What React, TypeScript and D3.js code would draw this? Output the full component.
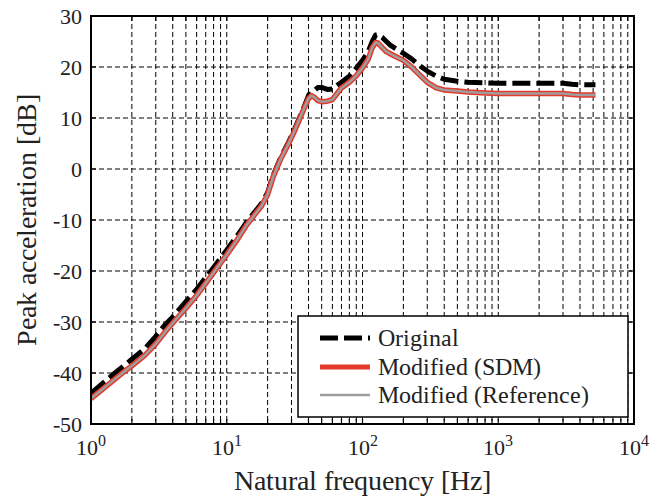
import React from "react";
import * as d3 from "d3";

const freqs = [1, 1.2, 1.5, 1.8, 2, 2.5, 3, 3.5, 4, 5, 6, 7, 8, 10, 12, 14, 16, 18, 20, 22, 25, 28, 31, 34, 37, 40, 42, 44, 47, 50, 55, 60, 65, 70, 80, 90, 100, 110, 118, 125, 130, 140, 150, 160, 180, 200, 230, 260, 300, 350, 400, 500, 600, 800, 1000, 1500, 2000, 3000, 3500, 4000, 5200];

const originalValues = [-44, -42.2, -40.0, -38.3, -37.3, -35.2, -32.8, -30.6, -29.0, -26.0, -23.6, -21.3, -19.3, -15.9, -13.0, -10.4, -8.5, -6.8, -4.6, -1.2, 2.3, 4.8, 7.3, 9.8, 12.1, 14.4, 15.2, 15.3, 16.0, 16.0, 15.6, 15.7, 16.4, 17.0, 18.2, 19.8, 21.3, 23.0, 25.0, 26.3, 26.4, 25.8, 25.0, 24.3, 23.4, 22.7, 21.6, 20.4, 19.2, 18.2, 17.6, 17.2, 17.0, 16.9, 16.8, 16.8, 16.8, 16.8, 16.6, 16.5, 16.5];

const sdmValues = [-45, -43.3, -41.2, -39.5, -38.6, -36.5, -34.3, -32.0, -30.2, -27.3, -24.8, -22.4, -20.3, -16.8, -13.8, -11.0, -9.0, -7.3, -5.0, -1.5, 2.0, 4.5, 7.0, 9.5, 11.8, 13.8, 14.4, 14.1, 13.4, 13.2, 13.3, 13.6, 14.8, 15.9, 17.0, 18.3, 19.8, 21.5, 23.8, 24.8, 24.7, 23.8, 23.0, 22.6, 21.9, 21.3, 20.0, 18.6, 17.0, 15.9, 15.5, 15.3, 15.1, 14.9, 14.8, 14.8, 14.8, 14.8, 14.6, 14.5, 14.5];

const referenceValues = [-45, -43.3, -41.2, -39.5, -38.6, -36.5, -34.3, -32.0, -30.2, -27.3, -24.8, -22.4, -20.3, -16.8, -13.8, -11.0, -9.0, -7.3, -5.0, -1.5, 2.0, 4.5, 7.0, 9.5, 11.8, 13.8, 14.4, 14.1, 13.4, 13.2, 13.3, 13.6, 14.8, 15.9, 17.0, 18.3, 19.8, 21.5, 23.8, 24.8, 24.7, 23.8, 23.0, 22.6, 21.9, 21.3, 20.0, 18.6, 17.0, 15.9, 15.5, 15.3, 15.1, 14.9, 14.8, 14.8, 14.8, 14.8, 14.6, 14.5, 14.5];

const yTicks = [-50, -40, -30, -20, -10, 0, 10, 20, 30];
const xMajorExponents = [0, 1, 2, 3, 4];
const legendLabels = ["Original", "Modified (SDM)", "Modified (Reference)"];

const W = 666;
const H = 497;
const L = 91, R = 634, T = 16, B = 424;
const FONT = "ChartSerif, 'Liberation Serif', 'DejaVu Serif', serif";
const fs = (size: number): React.CSSProperties => ({ fontFamily: FONT, fontSize: size + "px" });
const CSS = `@font-face { font-family: 'ChartSerif'; src: local('Liberation Serif'), local('LiberationSerif'), local('LiberationSerif-Regular'), local('Tinos'), local('Times New Roman'); }`;

export default function App() {
  const x = d3.scaleLog().domain([1, 1e4]).range([L, R]);
  const y = d3.scaleLinear().domain([-50, 30]).range([B, T]);

  const minor: number[] = [];
  for (let e = 0; e < 4; e++) {
    for (let k = 2; k <= 9; k++) minor.push(k * Math.pow(10, e));
  }
  const majors = xMajorExponents.map((e) => Math.pow(10, e));

  const line = (vals: number[]) =>
    d3
      .line<number>()
      .x((_, i) => x(freqs[i]))
      .y((v) => y(v))(vals) || "";

  const red = "#e5392c";
  const gray = "#9e9e9e";

  return (
    <svg width={W} height={H} style={{ display: "block", position: "absolute", left: 0, top: 0, fontFamily: FONT }}>
      <style>{CSS}</style>
      <rect x={0} y={0} width={W} height={H} fill="#fff" />
      <defs>
        <clipPath id="plotclip">
          <rect x={L} y={T} width={R - L} height={B - T} />
        </clipPath>
      </defs>
      {/* grid */}
      <g stroke="#000" strokeWidth={1} strokeDasharray="5 3" fill="none">
        {[...minor, ...majors.slice(1, -1)].map((f, i) => (
          <line key={"gx" + i} x1={x(f)} x2={x(f)} y1={T} y2={B} />
        ))}
        {yTicks.slice(1, -1).map((v) => (
          <line key={"gy" + v} x1={L} x2={R} y1={y(v)} y2={y(v)} />
        ))}
      </g>
      {/* ticks */}
      <g stroke="#000" strokeWidth={1.2}>
        {[...minor, ...majors].map((f, i) => (
          <g key={"tx" + i}>
            <line x1={x(f)} x2={x(f)} y1={B} y2={B - 5} />
            <line x1={x(f)} x2={x(f)} y1={T} y2={T + 5} />
          </g>
        ))}
        {yTicks.map((v) => (
          <g key={"ty" + v}>
            <line x1={L} x2={L + 5} y1={y(v)} y2={y(v)} />
            <line x1={R} x2={R - 5} y1={y(v)} y2={y(v)} />
          </g>
        ))}
      </g>
      {/* curves */}
      <g clipPath="url(#plotclip)" fill="none" strokeLinejoin="round">
        <path d={line(originalValues)} stroke="#000" strokeWidth={5} strokeDasharray="18 6" />
        <path d={line(sdmValues)} stroke={red} strokeWidth={5.5} />
        <path d={line(referenceValues)} stroke={gray} strokeWidth={2.5} />
      </g>
      {/* border */}
      <rect x={L} y={T} width={R - L} height={B - T} fill="none" stroke="#000" strokeWidth={2} />
      {/* y tick labels */}
      <g textAnchor="end" fill="#222">
        {yTicks.map((v) => (
          <text key={"yl" + v} x={82} y={y(v)} dy="0.35em" style={fs(22)}>
            {v}
          </text>
        ))}
      </g>
      {/* x tick labels */}
      <g fill="#222" textAnchor="middle">
        {xMajorExponents.map((e) => (
          <text key={"xl" + e} x={x(Math.pow(10, e))} y={455} style={fs(22)}>
            10
            <tspan style={fs(16)} dy={-9}>
              {e}
            </tspan>
          </text>
        ))}
      </g>
      {/* axis titles */}
      <text x={(L + R) / 2} y={490} style={fs(28)} textAnchor="middle" fill="#222">
        Natural frequency [Hz]
      </text>
      <text
        transform={`translate(36, ${(T + B) / 2}) rotate(-90)`}
        style={fs(28)}
        textAnchor="middle"
        fill="#222"
      >
        Peak acceleration [dB]
      </text>
      {/* legend */}
      <g>
        <rect x={298} y={316} width={330} height={101} fill="#fff" stroke="#000" strokeWidth={1.5} />
        <line x1={320} x2={370} y1={338} y2={338} stroke="#000" strokeWidth={5} strokeDasharray="18 6" />
        <line x1={320} x2={370} y1={367} y2={367} stroke={red} strokeWidth={5} />
        <line x1={320} x2={370} y1={395} y2={395} stroke={gray} strokeWidth={2.5} />
        {legendLabels.map((t, i) => (
          <text key={t} x={378} y={[338, 367, 395][i]} dy="0.35em" style={fs(24)} fill="#222">
            {t}
          </text>
        ))}
      </g>
    </svg>
  );
}
